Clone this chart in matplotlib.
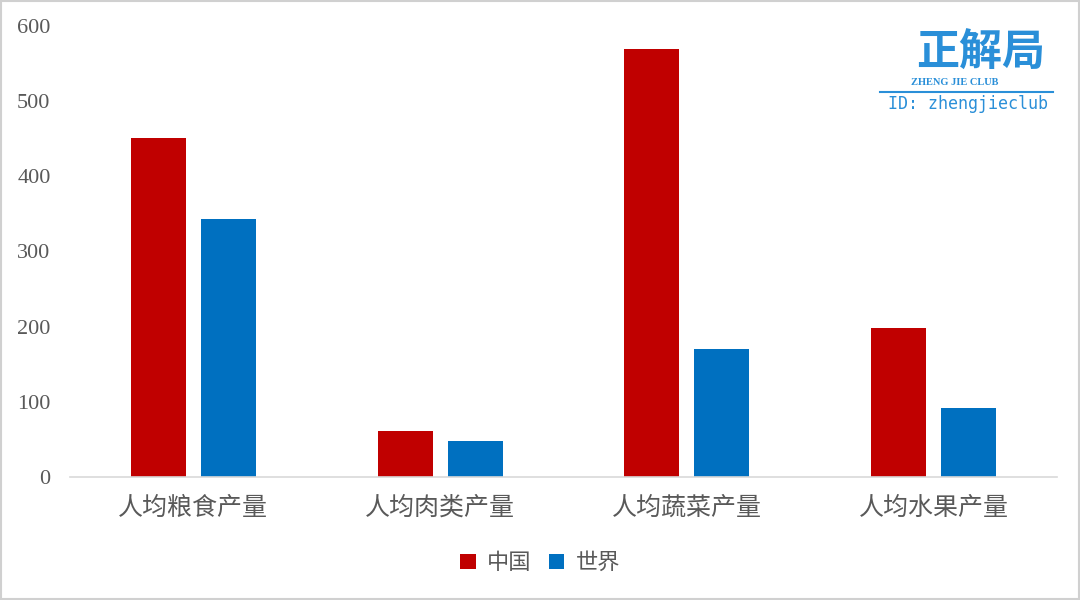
import numpy as np
import matplotlib.pyplot as plt
from matplotlib.patches import Rectangle

plt.rcParams['font.family'] = ['Noto Sans CJK SC', 'DejaVu Sans']

categories = ['人均粮食产量', '人均肉类产量', '人均蔬菜产量', '人均水果产量']
china = [451, 61, 570, 198]
world = [343, 48, 170, 92]
series_names = ['中国', '世界']
yticks = [0, 100, 200, 300, 400, 500, 600]

red = '#C00000'
blue = '#0070C0'

fig = plt.figure(figsize=(10.8, 6.0), dpi=100)
ax = fig.add_axes([0.0648, 0.205, 0.9139, 0.7517])

x = np.arange(len(categories))
w = 0.223
off = 0.142
b1 = ax.bar(x - off, china, w, color=red, label=series_names[0])
b2 = ax.bar(x + off, world, w, color=blue, label=series_names[1])

ax.set_xlim(-0.5, 3.5)
ax.set_ylim(0, 600)
ax.set_yticks(yticks)
ax.set_yticklabels([str(v) for v in yticks], family='Liberation Serif',
                   fontsize=16, color='#595959')
ax.set_xticks(x)
ax.set_xticklabels(categories, fontsize=18, color='#595959')
ax.tick_params(axis='y', length=0, pad=14)
ax.tick_params(axis='x', length=0, pad=13)
for s in ['left', 'right', 'top']:
    ax.spines[s].set_visible(False)
ax.spines['bottom'].set_color('#d9d9d9')
ax.spines['bottom'].set_linewidth(1.2)

leg = fig.legend(handles=[b1, b2], loc='center', bbox_to_anchor=(0.5, 0.062),
                 ncol=2, frameon=False, fontsize=16, handlelength=0.7,
                 handleheight=0.7, handletextpad=0.5, columnspacing=0.8)
for t in leg.get_texts():
    t.set_color('#595959')

# logo
logo = '#2a8fd8'
fig.text(0.908, 0.912, '正解局', fontsize=31, color=logo, ha='center', va='center',
         fontweight='bold', style='italic')
fig.text(0.884, 0.862, 'ZHENG JIE CLUB', fontsize=7.5, color=logo, ha='center',
         va='center', family='Liberation Serif', fontweight='bold')
fig.add_artist(plt.Line2D([0.815, 0.975], [0.847, 0.847], color=logo, lw=1.5))
fig.text(0.896, 0.826, 'ID: zhengjieclub', fontsize=12, color=logo, ha='center',
         va='center', family='DejaVu Sans Mono')

fig.add_artist(Rectangle((0.001, 0.001), 0.998, 0.997, transform=fig.transFigure,
                         fill=False, edgecolor='#d0d0d0', lw=1.5))

fig.savefig('out.png', dpi=100)
